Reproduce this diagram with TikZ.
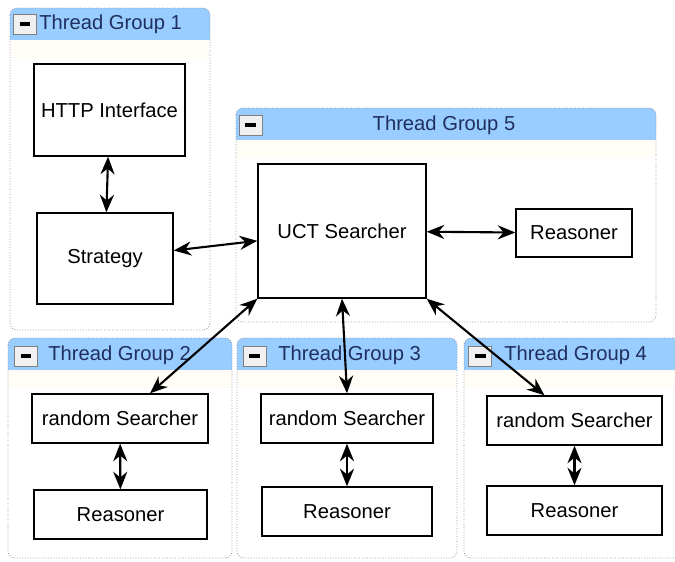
\documentclass[tikz,border=0pt]{standalone}
\usepackage{fontspec}
\setmainfont{Liberation Sans}
\usetikzlibrary{arrows.meta}
\definecolor{hdrblue}{HTML}{99CCFF}
\definecolor{hdrtext}{HTML}{1F2F5F}
\definecolor{framegray}{HTML}{8C9AAE}
\definecolor{cream}{HTML}{FFFDF5}

\begin{document}
\begin{tikzpicture}[x=0.02cm, y=-0.02cm,
		box/.style={draw, line width=0.8pt, fill=white, inner sep=0pt, font=\fontsize{11.5}{13}\selectfont},
		frame/.style={draw=framegray, densely dotted, line width=0.5pt, rounded corners=4pt},
		hdr/.style={fill=hdrblue},
		minus/.style={draw=gray, fill=gray!12, minimum width=0.46cm, minimum height=0.4cm, inner sep=0pt},
		title/.style={text=hdrtext, inner sep=0pt, font=\fontsize{11.5}{13}\selectfont},
		link/.style={line width=1.2pt, {Stealth[length=10pt,width=8pt]}-{Stealth[length=10pt,width=8pt]}}]
				\useasboundingbox (0,0) rectangle (675,561);
				% thread group frames
				\fill[hdr, rounded corners=4pt] (10,8) rectangle (210,40);
				\fill[hdr] (10,24) rectangle (210,40);
				\fill[cream] (10,40) rectangle (210,58);
				\draw[frame] (10,8) rectangle (210,330);
				\fill[hdr, rounded corners=4pt] (236,108) rectangle (656,140);
				\fill[hdr] (236,124) rectangle (656,140);
				\fill[cream] (236,140) rectangle (656,158);
				\draw[frame] (236,108) rectangle (656,322);
				\fill[hdr, rounded corners=4pt] (8,338) rectangle (232,370);
				\fill[hdr] (8,354) rectangle (232,370);
				\fill[cream] (8,370) rectangle (232,388);
				\draw[frame] (8,338) rectangle (232,558);
				\fill[hdr, rounded corners=4pt] (237,338) rectangle (457,370);
				\fill[hdr] (237,354) rectangle (457,370);
				\fill[cream] (237,370) rectangle (457,388);
				\draw[frame] (237,338) rectangle (457,558);
				\fill[hdr, rounded corners=4pt] (464,338) rectangle (690,370);
				\fill[hdr] (464,354) rectangle (690,370);
				\fill[cream] (464,370) rectangle (690,388);
				\draw[frame] (464,338) rectangle (690,558);
				% headers
				\node[minus] (M1)at(25, 24) {\rule{0.22cm}{2pt}};
				\node[title, anchor=west] (T1)at(39, 24) {Thread Group 1};
				\node[minus] (M5)at(250.5, 125) {\rule{0.22cm}{2pt}};
				\node[title] (T5)at(444, 125) {Thread Group 5};
				\node[minus] (M2)at(26, 356) {\rule{0.22cm}{2pt}};
				\node[title, anchor=west] (T2)at(48, 355) {Thread Group 2};
				\node[minus] (M3)at(254.5, 356) {\rule{0.22cm}{2pt}};
				\node[title, anchor=west] (T3)at(278, 355) {Thread Group 3};
				\node[minus] (M4)at(480, 356) {\rule{0.22cm}{2pt}};
				\node[title, anchor=west] (T4)at(504, 355) {Thread Group 4};
				% components
				\node[box, minimum width=3.02cm, minimum height=1.84cm] (HTTP)at(109.5, 110) {HTTP Interface};
				\node[box, minimum width=2.72cm, minimum height=1.82cm] (Strat)at(105, 258.5) {Strategy};
				\node[box, minimum width=3.36cm, minimum height=2.68cm] (UCT)at(342, 231) {UCT Searcher};
				\node[box, minimum width=2.32cm, minimum height=0.96cm] (R5)at(574, 233) {Reasoner};
				\node[box, minimum width=3.52cm, minimum height=0.98cm] (RS2)at(120, 418.5) {random Searcher};
				\node[box, minimum width=3.46cm, minimum height=0.98cm] (R2)at(120.5, 514.5) {Reasoner};
				\node[box, minimum width=3.44cm, minimum height=0.98cm] (RS3)at(347, 418.5) {random Searcher};
				\node[box, minimum width=3.40cm, minimum height=0.98cm] (R3)at(347, 511.5) {Reasoner};
				\node[box, minimum width=3.50cm, minimum height=0.98cm] (RS4)at(574.5, 420.5) {random Searcher};
				\node[box, minimum width=3.50cm, minimum height=0.98cm] (R4)at(574.5, 510.5) {Reasoner};
				% links
				\draw (HTTP) edge[link] (Strat);
				\draw (Strat) edge[link] (UCT);
				\draw (UCT) edge[link] (R5);
				\draw (UCT.south west) edge[link] ([xshift=0.6cm]RS2.north);
				\draw (UCT.south) edge[link] (RS3.north);
				\draw (UCT.south east) edge[link] ([xshift=-0.6cm]RS4.north);
				\draw (RS2) edge[link] (R2);
				\draw (RS3) edge[link] (R3);
				\draw (RS4) edge[link] (R4);
			\end{tikzpicture}
\end{document}
